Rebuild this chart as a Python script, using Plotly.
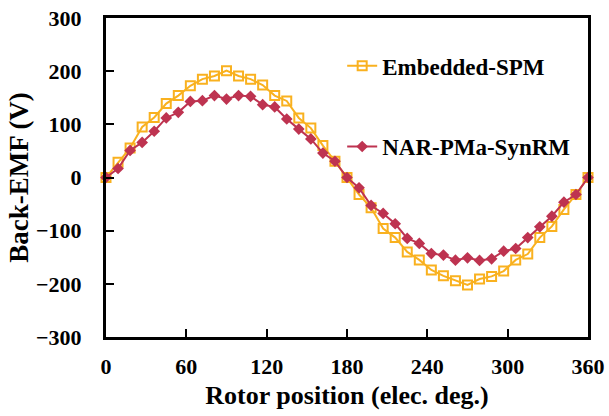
import plotly.graph_objects as go

angles = [i * 9 for i in range(41)]

spm = [0, 28.7, 55.6, 95, 113, 139, 154, 172.5, 185, 191, 201, 191, 185, 174, 154, 144, 112, 93, 60, 30.6,
       0, -32, -57, -96, -113, -140, -155, -174, -185, -194, -202, -191, -186, -176, -155, -144, -113, -92, -60, -32, 0]

synrm = [0, 16.9, 51, 66, 87, 112, 122.6, 143, 144.5, 154, 147.6, 154, 152.6, 137, 132.7, 110, 91, 72.5, 46, 30.6,
         0, -19.5, -52.6, -67.6, -87, -114.6, -124, -143, -146, -155.5, -151, -156, -153, -138.6, -133.5, -113, -92.8, -72.8, -46.5, -32, 0]

x_ticks = [0, 60, 120, 180, 240, 300, 360]
y_ticks = [-300, -200, -100, 0, 100, 200, 300]

YEL = "#F9B11F"
RED = "#BE3350"
FONT = "Liberation Serif"

fig = go.Figure()
fig.add_trace(go.Scatter(
    x=angles, y=spm, mode="lines+markers", name="<b>Embedded-SPM</b>",
    line=dict(color=YEL, width=2),
    marker=dict(symbol="square-open", size=9, color=YEL, line=dict(width=2, color=YEL)),
    legend="legend", cliponaxis=False,
))
fig.add_trace(go.Scatter(
    x=angles, y=synrm, mode="lines+markers", name="<b>NAR-PMa-SynRM</b>",
    line=dict(color=RED, width=2),
    marker=dict(symbol="diamond", size=9, color=RED),
    legend="legend2", cliponaxis=False,
))

fig.update_xaxes(
    range=[0, 360], tickvals=x_ticks, ticklabelstandoff=8,
    showline=True, linecolor="black", linewidth=3, mirror=True,
    ticks="inside", ticklen=8, tickwidth=2, tickcolor="black",
    showgrid=False, zeroline=False, automargin=False,
    tickfont=dict(family=FONT, size=22, color="black", weight="bold"),
    title=dict(text="<b>Rotor position (elec. deg.)</b>", font=dict(family=FONT, size=26), standoff=8),
)
fig.update_yaxes(
    range=[-300, 300], tickvals=y_ticks, ticklabelstandoff=17,
    showline=True, linecolor="black", linewidth=3, mirror=True,
    ticks="inside", ticklen=8, tickwidth=2, tickcolor="black",
    showgrid=False, zeroline=False, automargin=False,
    tickfont=dict(family=FONT, size=22, color="black", weight="bold"),
    title=dict(text="<b>Back-EMF (V)</b>", font=dict(family=FONT, size=27), standoff=0),
)

fig.update_layout(
    width=609, height=416,
    margin=dict(l=106, r=21, t=18, b=79),
    paper_bgcolor="white", plot_bgcolor="white",
    font=dict(family=FONT, color="black"),
    legend=dict(x=0.49, y=0.85, xanchor="left", yanchor="middle", bgcolor="rgba(0,0,0,0)",
                font=dict(family=FONT, size=23, color="black")),
    legend2=dict(x=0.49, y=0.597, xanchor="left", yanchor="middle", bgcolor="rgba(0,0,0,0)",
                 font=dict(family=FONT, size=23, color="black")),
    showlegend=True,
)

post = (
    "document.body.style.margin='0';document.body.style.overflow='hidden';"
)
fig.write_html("out.html", config={"displayModeBar": False}, post_script=post)
